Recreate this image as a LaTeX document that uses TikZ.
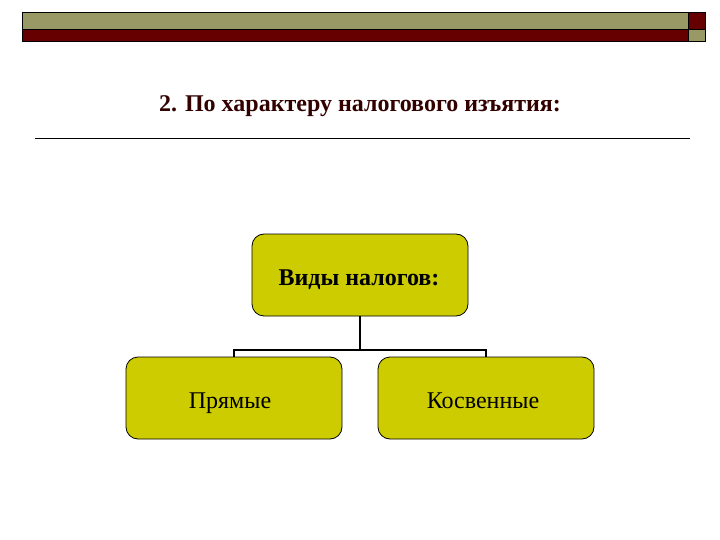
\documentclass[tikz,border=0pt]{standalone}
\usepackage{fontspec}
\setmainfont{Liberation Serif}
\definecolor{olivebar}{RGB}{153,153,102}
\definecolor{darkred}{RGB}{102,0,0}
\definecolor{boxfill}{RGB}{204,204,0}
\definecolor{titlecol}{RGB}{51,0,0}
\tikzset{
  leaf/.style={draw=black, line width=0.8pt, fill=boxfill, rounded corners=12pt, minimum width=216pt, minimum height=82pt, inner sep=0pt},
  conn/.style={draw=black, line width=1.5pt},
  big/.style={font=\fontsize{24}{28}\selectfont},
  bigbold/.style={font=\fontsize{24}{28}\selectfont\bfseries},
}
\begin{document}
\begin{tikzpicture}[x=1pt,y=-1pt]
\useasboundingbox (0,0) rectangle (720,540);
\fill[white] (0,0) rectangle (720,540);
% top bar
\fill[olivebar] (22,12) rectangle (688,29);
\fill[darkred] (22,29) rectangle (688,41);
\fill[darkred] (688,12) rectangle (705,29);
\fill[olivebar] (688,29) rectangle (705,41);
\draw[black, line width=0.8pt] (22,12) rectangle (705,41);
\draw[black, line width=0.8pt] (22,29) -- (705,29);
\draw[black, line width=0.8pt] (688,12) -- (688,41);
% title
\node[bigbold, text=titlecol, anchor=base] (title) at (360,112) {2. По характеру налогового изъятия:};
\draw[black, line width=0.8pt] (35,138) -- (690,138);
% boxes
\node[leaf] (top) at (360,275) {};
\node[leaf] (left) at (234,398) {};
\node[leaf] (right) at (486,398) {};
\node[bigbold, anchor=base] (toptext) at (359,285) {Виды налогов:};
\node[big, anchor=base] (lefttext) at (230,408) {Прямые};
\node[big, anchor=base] (righttext) at (483,408) {Косвенные};
\coordinate (j) at (360,350);
\draw[conn] (top.south) -- (j);
\draw[conn] (left.north) -- (left.north |- j) -- (right.north |- j) -- (right.north);
\end{tikzpicture}
\end{document}
